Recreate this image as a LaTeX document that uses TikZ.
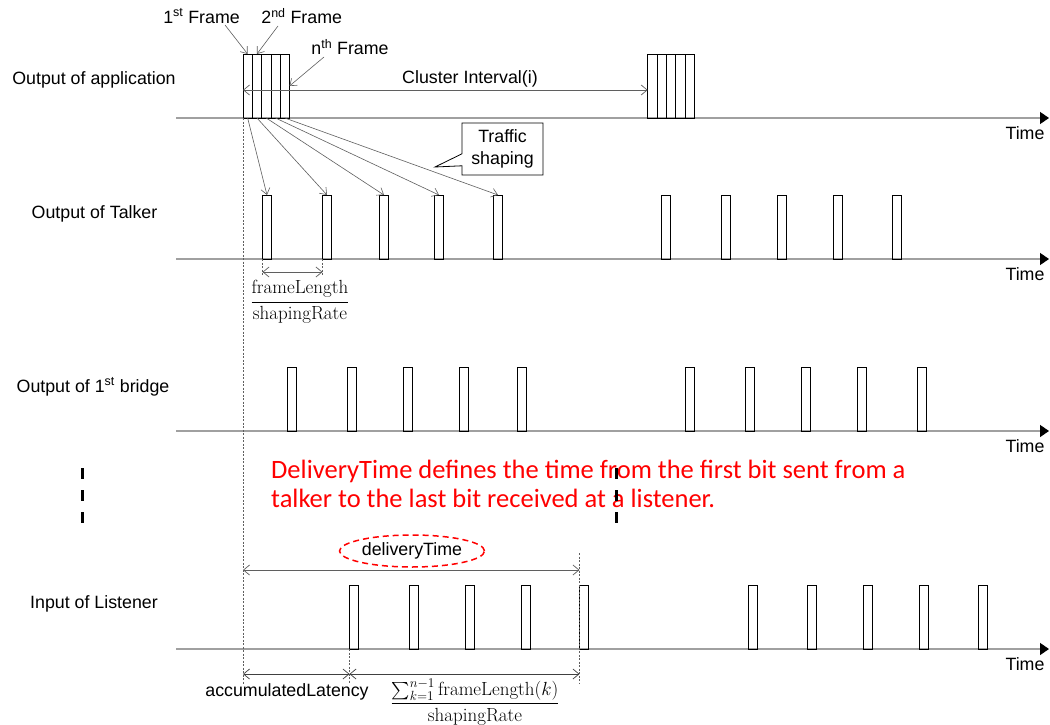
\documentclass[tikz,border=0pt]{standalone}
\usepackage{fix-cm}
\usepackage{amsmath}
\usepackage{fontspec}
\newfontfamily\arial{Liberation Sans}
\newfontfamily\calibri{Carlito}
\usetikzlibrary{arrows.meta,shapes.geometric,shapes.callouts}
\definecolor{axisgray}{RGB}{160,160,160}
\definecolor{linegray}{RGB}{95,95,95}
\tikzset{
 lbl/.style={font=\arial\fontsize{17.8}{21}\selectfont, inner sep=0pt},
 axis/.style={draw=axisgray, line width=1.4pt, -{Triangle[length=9pt,width=12pt,color=black]}},
 pulse/.style={draw=black, line width=0.8pt, inner sep=0pt, outer sep=0pt, minimum width=9pt, minimum height=64pt, anchor=south},
 frm/.style={draw=black, line width=0.8pt, inner sep=0pt, outer sep=0pt, minimum width=9.3pt, minimum height=64pt, anchor=south},
 shapearrow/.style={draw=linegray, line width=0.6pt, -{Straight Barb[length=6pt,width=9pt]}},
 dimarrow/.style={draw=linegray, line width=0.7pt, {Straight Barb[length=6pt,width=10pt]}-{Straight Barb[length=6pt,width=10pt]}},
 guide/.style={draw=linegray, line width=0.6pt, dash pattern=on 2pt off 1.5pt},
 mathlbl/.style={font=\fontsize{19}{22}\selectfont, inner sep=0pt},
 note/.style={font=\calibri\fontsize{26.5}{30}\selectfont, text=red, anchor=base west, inner sep=0pt},
 marker/.style={draw=black, line width=3pt, dash pattern=on 11pt off 11pt},
}
\begin{document}
\begin{tikzpicture}[x=1pt,y=-1pt]
\fill[white] (0,0) rectangle (1050,725);
\useasboundingbox (0,0) rectangle (1050,725);
% axes
\foreach \y/\n in {118/app,259/tal,431/bri,649/lis} {
  \coordinate (\n0) at (176,\y);
  \coordinate (\n1) at (1049,\y);
  \draw[axis] (\n0) -- (\n1);
  \node[lbl] (time\n) at (1025,\y+15) {Time};
}
% row labels
\node[lbl] (lblapp) at (94,80) {Output of application};
\node[lbl] (lbltal) at (94.5,214) {Output of Talker};
\node[lbl] (lblbri) at (93,387) {Output of 1\textsuperscript{st} bridge};
\node[lbl] (lbllis) at (94,604) {Input of Listener};
% application frames
\foreach \i in {1,...,5} {
  \node[frm] (f\i) at ({247.65+(\i-1)*9.3},118) {};
  \node[frm] (g\i) at ({652.35+(\i-1)*9.3},118) {};
}
% frame labels
\node[lbl] (lf1) at (201.5,16) {1\textsuperscript{st} Frame};
\node[lbl] (lf2) at (301.7,16) {2\textsuperscript{nd} Frame};
\node[lbl] (lfn) at (350,47) {n\textsuperscript{th} Frame};
\coordinate (s1) at (225,25);
\coordinate (s2) at (278,26);
\coordinate (sn) at (324,57);
\draw[shapearrow] (s1) -- (f1.north);
\draw[shapearrow] (s2) -- (f2.north);
\draw[shapearrow] (sn) -- (f5.east);
% cluster interval
\coordinate (ciy) at (0,90);
\draw[dimarrow] (f1.west |- ciy) -- (g1.west |- ciy);
\node[lbl] (cil) at (470,79) {Cluster Interval(i)};
% pulses
\foreach \x [count=\i] in {267,327,384,439,498,666,726,782,838,897}
  \node[pulse] (t\i) at (\x,259) {};
\foreach \x [count=\i] in {292,352,408,464,522,690,750,806,862,922}
  \node[pulse] (b\i) at (\x,431) {};
\foreach \x [count=\i] in {354,414,469.5,526,584,753,812,868,924,983}
  \node[pulse] (ls\i) at (\x,649) {};
% traffic shaping arrows
\foreach \i in {1,...,5}
  \draw[shapearrow] (f\i.south) -- (t\i.north);
\node[lbl, font=\arial\fontsize{17.8}{22}\selectfont, rectangle callout, draw=black, fill=white, line width=0.8pt,
  minimum width=81pt, minimum height=52pt, align=center,
  callout absolute pointer={(435,167)}, callout pointer width=12pt] (ts) at (502.5,149) {Traffic\\shaping};
% talker dimension
\coordinate (dtal) at (0,272);
\coordinate (dtalb) at (0,276);
\draw[guide] (t1.south west) -- (t1.south west |- dtalb);
\draw[guide] (t2.south west) -- (t2.south west |- dtalb);
\draw[dimarrow] (t1.south west |- dtal) -- (t2.south west |- dtal);
\node[mathlbl] (fr1) at (300,302) {$\dfrac{\mathrm{frameLength}}{\mathrm{shapingRate}}$};
% long guide
\coordinate (gbot) at (0,684);
\draw[guide] (f1.south west) -- (f1.south west |- gbot);
% delivery time
\coordinate (dly) at (0,570);
\coordinate (dlytop) at (0,553);
\draw[dimarrow] (f1.south west |- dly) -- (ls5.south west |- dly);
\draw[guide] (ls5.south west |- dlytop) -- (ls5.south west |- gbot);
\node[lbl, ellipse, draw=red, line width=1.5pt, dash pattern=on 6pt off 4pt,
  minimum width=145pt, minimum height=32pt] (dt) at (412,551) {deliveryTime};
% bottom dimensions
\coordinate (boty) at (0,674);
\draw[guide] (ls1.south west) -- (ls1.south west |- gbot);
\draw[dimarrow, draw=black!75] (f1.south west |- boty) -- (ls1.south west |- boty);
\draw[dimarrow, draw=black!75] (ls1.south west |- boty) -- (ls5.south west |- boty);
\node[lbl] (acc) at (287,692) {accumulatedLatency};
\node[mathlbl] (fr2) at (475,702) {$\dfrac{\sum_{k=1}^{n-1}\mathrm{frameLength}(k)}{\mathrm{shapingRate}}$};
% red note
\node[note] (note1) at (271,478) {DeliveryTime defines the time from the first bit sent from a};
\node[note] (note2) at (271,507) {talker to the last bit received at a listener.};
% continuation markers
\draw[marker] (82,468) -- (82,523);
\draw[marker] (616,468) -- (616,523);
\end{tikzpicture}
\end{document}
